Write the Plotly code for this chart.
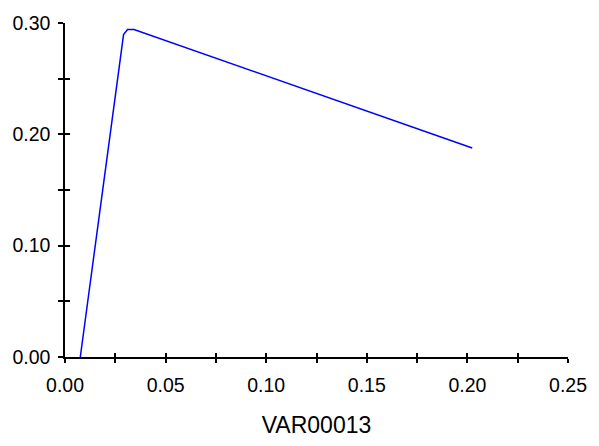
import plotly.graph_objects as go

# data
x_vals = [0.0076, 0.0291, 0.0311, 0.0343, 0.2024]
y_vals = [0.0, 0.2896, 0.2942, 0.2942, 0.1878]
x_ticks = [0.00, 0.05, 0.10, 0.15, 0.20, 0.25]
y_ticks = [0.00, 0.10, 0.20, 0.30]
x_title = "VAR00013"

FONT = "Liberation Sans, Arial, sans-serif"
FS = 19.5

fig = go.Figure()
fig.add_trace(go.Scatter(x=x_vals, y=y_vals, mode="lines",
                         line=dict(color="#0000ff", width=1.5),
                         showlegend=False, hoverinfo="skip"))
fig.add_trace(go.Scatter(x=[], y=[], xaxis="x2", yaxis="y2", showlegend=False))

common = dict(showline=True, linecolor="black", linewidth=1.5, showgrid=False,
              zeroline=False, tickcolor="black", tickwidth=1.5)

fig.update_layout(
    width=599, height=446,
    margin=dict(l=61, r=23, t=16, b=87),
    paper_bgcolor="white", plot_bgcolor="white",
    font=dict(family=FONT, size=FS, color="black"),
    xaxis=dict(range=[0, 0.25], tickvals=x_ticks, tickformat=".2f",
               ticks="outside", ticklen=4, ticklabelstandoff=6,
               minor=dict(dtick=0.025, tick0=0, ticks="outside", ticklen=4,
                          tickcolor="black", tickwidth=1.5),
               title=dict(text=x_title, standoff=22), **common),
    yaxis=dict(range=[0, 0.30], tickvals=y_ticks, tickformat=".2f",
               ticks="outside", ticklen=5, ticklabelstandoff=4,
               minor=dict(dtick=0.05, tick0=0, ticks="outside", ticklen=5,
                          tickcolor="black", tickwidth=1.5),
               **common),
    xaxis2=dict(overlaying="x", anchor="y2", side="bottom", range=[0, 0.25],
                tickvals=x_ticks, showticklabels=False, ticks="inside", ticklen=4,
                minor=dict(dtick=0.025, tick0=0, ticks="inside", ticklen=4,
                           tickcolor="black", tickwidth=1.5),
                **common),
    yaxis2=dict(overlaying="y", anchor="x2", side="left", range=[0, 0.30],
                tickvals=y_ticks, showticklabels=False, ticks="inside", ticklen=5,
                minor=dict(dtick=0.05, tick0=0, ticks="inside", ticklen=5,
                           tickcolor="black", tickwidth=1.5),
                **common),
)

fig.write_html("out.html")
